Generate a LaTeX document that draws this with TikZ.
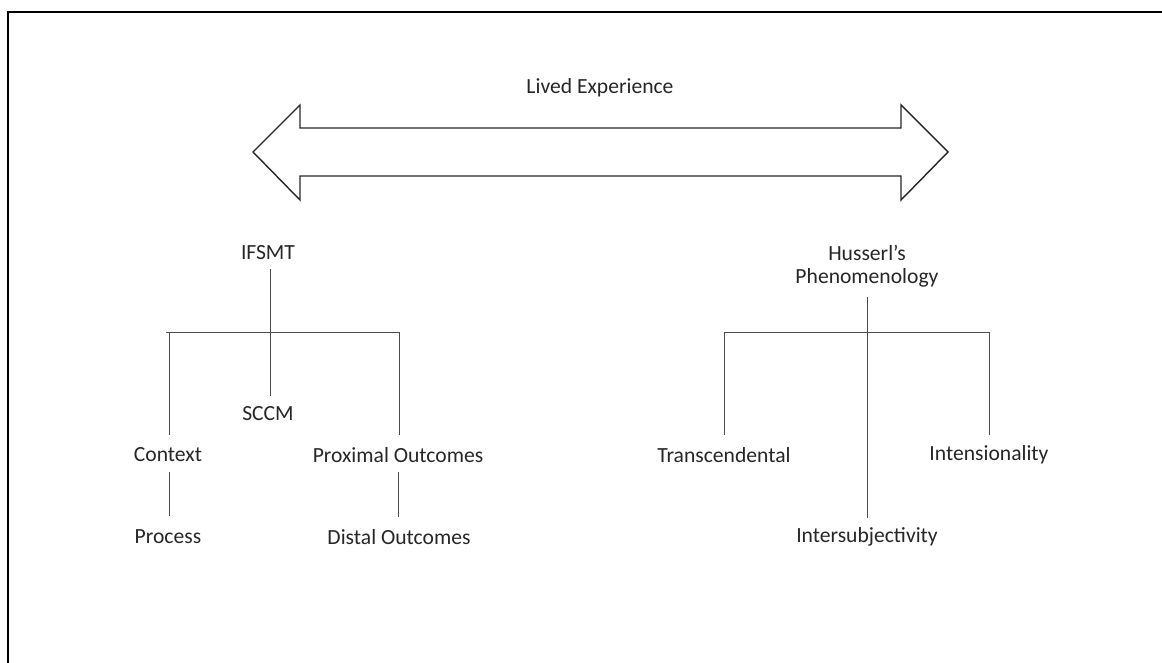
\documentclass[tikz,border=0pt]{standalone}
\usepackage{fontspec}
\setmainfont{Carlito}
\begin{document}
\begin{tikzpicture}[x=1pt,y=-1pt,
  lbl/.style={inner sep=0pt, font=\fontsize{21.6}{25}\selectfont, text=black!85, align=center},
  conn/.style={draw=black!70, line width=0.9pt},
  outline/.style={draw=black!85, line width=1.4pt, line join=miter}]
\useasboundingbox (0,0) rectangle (1162,663);
\begin{scope}
\clip (0,0) rectangle (1162,663);
\draw[line width=2pt] (8,12) rectangle (1180,700);
\end{scope}
% double arrow
\draw[outline] (253,152) -- (300,105) -- (300,128) -- (901,128) -- (901,105) -- (948,152)
  -- (901,200) -- (901,176) -- (300,176) -- (300,200) -- cycle;
\node[lbl] (lived) at (600,88) {Lived Experience};
% left tree
\node[lbl] (ifsmt) at (268,253) {IFSMT};
\node[lbl] (sccm) at (268,414) {SCCM};
\node[lbl] (context) at (168,455) {Context};
\node[lbl] (prox) at (398,455) {Proximal Outcomes};
\node[lbl] (process) at (168,537) {Process};
\node[lbl] (distal) at (399,537) {Distal Outcomes};
\coordinate (lbarL) at (166,332);
\coordinate (lbarR) at (399,332);
\coordinate (ltop) at (270,269);
\coordinate (lbot) at (270,396);
\draw[conn] (ltop) -- (lbot);
\draw[conn] (lbarL) -- (lbarR);
\draw[conn] (169,332) -- (169,435);
\draw[conn] (lbarR) -- (399,435);
\draw[conn] (169,472) -- (169,516);
\draw[conn] (398,472) -- (398,517);
% right tree
\node[lbl] (husserl) at (867,266) {Husserl’s\\[-2pt]Phenomenology};
\node[lbl] (trans) at (724,455) {Transcendental};
\node[lbl] (intens) at (989,455) {Intensionality};
\node[lbl] (intersub) at (867,537) {Intersubjectivity};
\coordinate (rbarL) at (724,332);
\coordinate (rbarR) at (989,332);
\coordinate (rtop) at (867,297);
\coordinate (rbot) at (867,518);
\draw[conn] (rtop) -- (rbot);
\draw[conn] (rbarL) -- (rbarR);
\draw[conn] (rbarL) -- (724,435);
\draw[conn] (rbarR) -- (989,435);
\end{tikzpicture}
\end{document}
